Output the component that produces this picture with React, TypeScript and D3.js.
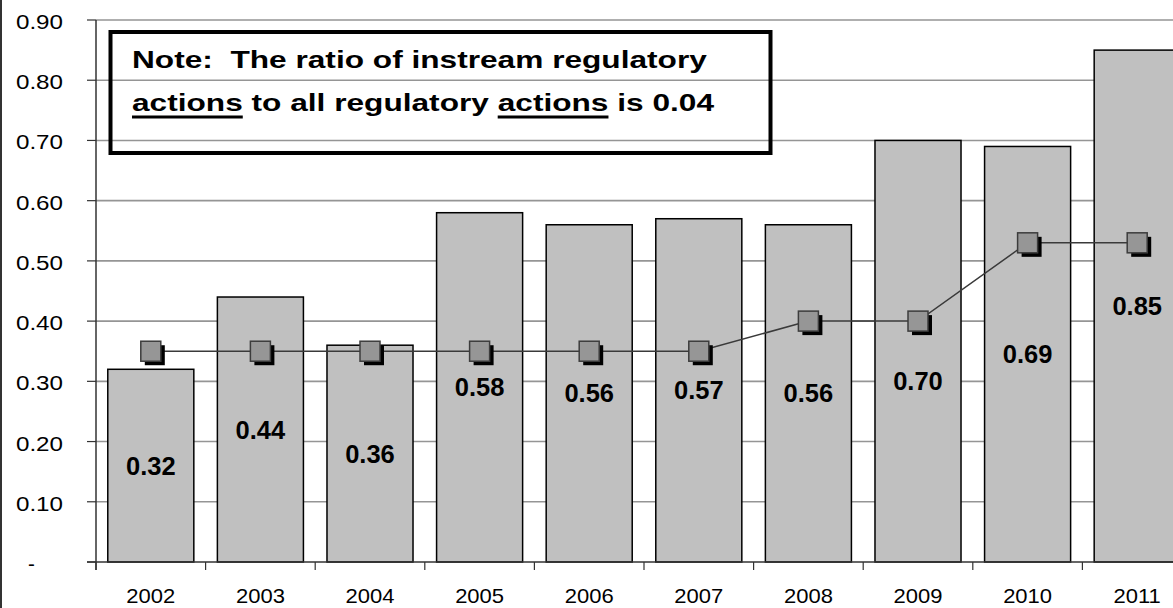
import React, { useEffect, useRef } from "react";
import * as d3 from "d3";

const years = ["2002", "2003", "2004", "2005", "2006", "2007", "2008", "2009", "2010", "2011"];
const ratioValues = [0.32, 0.44, 0.36, 0.58, 0.56, 0.57, 0.56, 0.7, 0.69, 0.85];
const ratioLabels = ["0.32", "0.44", "0.36", "0.58", "0.56", "0.57", "0.56", "0.70", "0.69", "0.85"];
const labelAnchors = [0.16, 0.22, 0.18, 0.29, 0.28, 0.285, 0.28, 0.3, 0.345, 0.425];
const lineValues = [0.35, 0.35, 0.35, 0.35, 0.35, 0.35, 0.4, 0.4, 0.53, 0.53];
const yTicks = [0, 0.1, 0.2, 0.3, 0.4, 0.5, 0.6, 0.7, 0.8, 0.9];
const yTickLabels = ["-", "0.10", "0.20", "0.30", "0.40", "0.50", "0.60", "0.70", "0.80", "0.90"];
const noteLine1 = "Note:  The ratio of instream regulatory";
const noteLine2 = [
  { text: "actions", underline: true },
  { text: " to all regulatory ", underline: false },
  { text: "actions", underline: true },
  { text: " is 0.04", underline: false },
];

const W = 1173;
const H = 608;
const FONT = "'Liberation Sans', Arial, Helvetica, sans-serif";

export default function App() {
  const ref = useRef<SVGSVGElement | null>(null);

  useEffect(() => {
    const svg = d3.select(ref.current);
    svg.selectAll("*").remove();

    const left = 96;
    const top = 20;
    const bottom = 562;
    const step = 109.6;
    const right = left + step * years.length;

    const x = d3.scaleBand<string>().domain(years).range([left, right]).paddingInner(0.215).paddingOuter(0.1075);
    const y = d3.scaleLinear().domain([0, 0.9]).range([bottom, top]);

    // chart left border
    svg.append("line").attr("x1", 1).attr("x2", 1).attr("y1", 0).attr("y2", H)
      .attr("stroke", "#333").attr("stroke-width", 2);

    // gridlines
    svg.append("g").selectAll("line").data(yTicks.filter((t) => t > 0)).join("line")
      .attr("x1", left).attr("x2", W).attr("y1", (d) => y(d)).attr("y2", (d) => y(d))
      .attr("stroke", "#959595").attr("stroke-width", 1.6);

    // bars
    svg.append("g").selectAll("rect").data(years).join("rect")
      .attr("x", (d) => x(d)!).attr("width", x.bandwidth())
      .attr("y", (_, i) => y(ratioValues[i])).attr("height", (_, i) => bottom - y(ratioValues[i]))
      .attr("fill", "#c0c0c0").attr("stroke", "#000").attr("stroke-width", 1.5);

    // y axis
    const ax = svg.append("g");
    ax.append("line").attr("x1", left).attr("x2", left).attr("y1", top).attr("y2", bottom + 8)
      .attr("stroke", "#333").attr("stroke-width", 1.5);
    ax.selectAll("line.tk").data(yTicks).join("line").attr("class", "tk")
      .attr("x1", left - 9).attr("x2", left).attr("y1", (d) => y(d)).attr("y2", (d) => y(d))
      .attr("stroke", "#333").attr("stroke-width", 1.2);
    ax.selectAll("text").data(yTicks).join("text")
      .attr("transform", (d, i) => i === 0 ? `translate(31.5,${y(d) + 9})` : `translate(63,${y(d) + 9}) scale(1.18,1)`)
      .attr("text-anchor", (_, i) => (i === 0 ? "middle" : "end"))
      .attr("font-family", FONT).attr("font-size", 20.5).attr("fill", "#000")
      .text((_, i) => yTickLabels[i]);

    // x axis
    svg.append("line").attr("x1", left - 9).attr("x2", W).attr("y1", bottom).attr("y2", bottom)
      .attr("stroke", "#333").attr("stroke-width", 1.5);
    const boundaries = d3.range(years.length + 1).map((i) => left + i * step);
    svg.append("g").selectAll("line").data(boundaries).join("line")
      .attr("x1", (d) => d).attr("x2", (d) => d).attr("y1", bottom).attr("y2", bottom + 8)
      .attr("stroke", "#333").attr("stroke-width", 1.2);
    svg.append("g").selectAll("text").data(years).join("text")
      .attr("transform", (d) => `translate(${x(d)! + x.bandwidth() / 2},603) scale(1.1,1)`)
      .attr("text-anchor", "middle").attr("font-family", FONT).attr("font-size", 20).attr("fill", "#000")
      .text((d) => d);

    // line series
    const cx = (i: number) => x(years[i])! + x.bandwidth() / 2;
    const lineGen = d3.line<number>().x((_, i) => cx(i)).y((d) => y(d));
    svg.append("path").datum(lineValues).attr("d", lineGen)
      .attr("fill", "none").attr("stroke", "#3a3a3a").attr("stroke-width", 1.5);
    const mk = svg.append("g");
    mk.selectAll("rect.sh").data(lineValues).join("rect").attr("class", "sh")
      .attr("x", (_, i) => cx(i) - 10 + 4).attr("y", (d) => y(d) - 10 + 4)
      .attr("width", 20).attr("height", 20).attr("fill", "#000");
    mk.selectAll("rect.m").data(lineValues).join("rect").attr("class", "m")
      .attr("x", (_, i) => cx(i) - 10).attr("y", (d) => y(d) - 10)
      .attr("width", 20).attr("height", 20).attr("fill", "#969696")
      .attr("stroke", "#3c3c3c").attr("stroke-width", 1.5);

    // bar labels
    svg.append("g").selectAll("text").data(years).join("text")
      .attr("x", (d) => x(d)! + x.bandwidth() / 2)
      .attr("y", (_, i) => y(labelAnchors[i]) + 9)
      .attr("text-anchor", "middle").attr("font-family", FONT).attr("font-weight", "bold")
      .attr("font-size", 25.5).attr("fill", "#000")
      .text((_, i) => ratioLabels[i]);

    // note box
    svg.append("rect").attr("x", 110.5).attr("y", 32).attr("width", 660).attr("height", 121)
      .attr("fill", "none").attr("stroke", "#000").attr("stroke-width", 4);
    const note = svg.append("g").attr("font-family", FONT).attr("font-weight", "bold").attr("font-size", 23);
    const inner = note.append("g");
    const t1 = inner.append("text").attr("x", 0).attr("y", 68.5).style("white-space", "pre").text(noteLine1);
    const t2 = inner.append("text").attr("x", 0).attr("y", 111.5).style("white-space", "pre");
    noteLine2.forEach((p) => t2.append("tspan").text(p.text));
    const w1 = (t1.node() as SVGTextElement).getComputedTextLength();
    const sx = 575 / w1;
    inner.attr("transform", `translate(132,0) scale(${sx},1)`);
    let offset = 0;
    const t2n = t2.node() as SVGTextElement;
    noteLine2.forEach((p) => {
      const len = t2n.getSubStringLength(offset, p.text.length);
      if (p.underline) {
        const start = offset === 0 ? 0 : t2n.getSubStringLength(0, offset);
        inner.append("rect").attr("x", start).attr("y", 115.5).attr("width", len).attr("height", 3).attr("fill", "#000");
      }
      offset += p.text.length;
    });
  }, []);

  return (
    <svg
      ref={ref}
      width={W}
      height={H}
      style={{ position: "absolute", left: 0, top: 0, display: "block", background: "#fff" }}
    />
  );
}
